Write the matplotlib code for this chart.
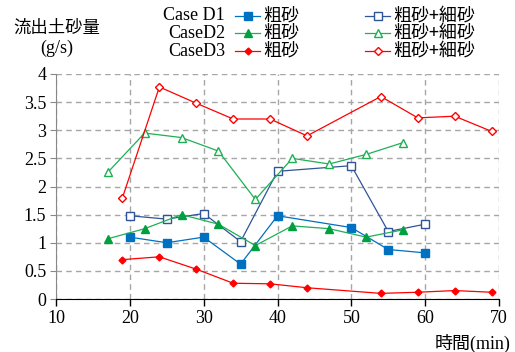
import matplotlib.pyplot as plt
from matplotlib.lines import Line2D

CJK = ['Noto Sans CJK JP', 'DejaVu Sans']
SERIF = ['Liberation Serif', 'Noto Sans CJK JP']

# Case D1 (every 5 min from 20)
d1_t = [20, 25, 30, 35, 40, 50, 55, 60]
d1_coarse = [1.10, 1.00, 1.10, 0.62, 1.48, 1.27, 0.88, 0.82]
d1_mixed = [1.48, 1.42, 1.52, 1.02, 2.27, 2.37, 1.20, 1.33]

# Case D2
d2_t = [17, 22, 27, 32, 37, 42, 47, 52, 57]
d2_coarse = [1.07, 1.25, 1.50, 1.33, 0.95, 1.30, 1.25, 1.10, 1.23]
d2_mixed = [2.25, 2.95, 2.87, 2.63, 1.77, 2.50, 2.40, 2.57, 2.78]

# Case D3
d3_t = [19, 24, 29, 34, 39, 44, 54, 59, 64, 69]
d3_coarse = [0.70, 0.75, 0.53, 0.28, 0.27, 0.20, 0.10, 0.12, 0.15, 0.12]
d3_mixed = [1.80, 3.77, 3.48, 3.20, 3.20, 2.90, 3.60, 3.22, 3.25, 2.98]

case_names = ['Case D1', 'CaseD2', 'CaseD3']
sand_labels = ['粗砂', '粗砂+細砂']

BLUE = '#0070C0'
NAVY = '#2F5597'
GREEN = '#1DB054'
RED = '#FF0000'

styles = [
    (d1_t, d1_coarse, dict(color=BLUE, marker='s', ms=5.2, mfc=BLUE, mec=BLUE)),
    (d1_t, d1_mixed, dict(color=NAVY, marker='s', ms=5.5, mfc='white', mec=NAVY)),
    (d2_t, d2_coarse, dict(color=GREEN, marker='^', ms=6, mfc='#00A040', mec='#00A040')),
    (d2_t, d2_mixed, dict(color=GREEN, marker='^', ms=6, mfc='white', mec=GREEN)),
    (d3_t, d3_coarse, dict(color=RED, marker='D', ms=3.5, mfc=RED, mec=RED)),
    (d3_t, d3_mixed, dict(color=RED, marker='D', ms=4.5, mfc='white', mec=RED)),
]

fig = plt.figure(figsize=(5.15, 3.52), dpi=100)
ax = fig.add_axes([56 / 515, 53 / 352, 443 / 515, 225 / 352])

for t, v, st in styles:
    ax.plot(t, v, lw=0.9, mew=1.0, **st)

ax.set_xlim(10, 70)
ax.set_ylim(0, 4)
ax.set_xticks(range(10, 71, 10))
ax.set_yticks([0, 0.5, 1, 1.5, 2, 2.5, 3, 3.5, 4])
ax.set_yticklabels(['0', '0.5', '1', '1.5', '2', '2.5', '3', '3.5', '4'])
for lab in ax.get_xticklabels() + ax.get_yticklabels():
    lab.set_family(SERIF)
    lab.set_fontsize(13)

ax.grid(True, color='#A6A6A6', linestyle=(0, (4, 3)), lw=1.0)
ax.spines['top'].set_visible(False)
ax.spines['right'].set_visible(False)
ax.spines['left'].set_color('#888888')
ax.spines['bottom'].set_color('black')
ax.tick_params(axis='x', direction='out', length=5, width=1, pad=3)
ax.tick_params(axis='y', direction='out', length=4, width=0.8, color='#888888', pad=3)
ax.set_axisbelow(True)

fig.text(57 / 515, 1 - 28 / 352, '流出土砂量', family=CJK, fontsize=12.5,
         ha='center', va='center')
fig.text(57 / 515, 1 - 48 / 352, '(g/s)', family=SERIF, fontsize=13,
         ha='center', va='center')
fig.text(510 / 515, 1 - 343 / 352, '時間(min)', family=SERIF, fontsize=13,
         ha='right', va='center')

# legend block: row captions, line samples and labels (rows sit tight together)
row_y = [16, 33, 51]
col_line = [(235, 260), (365, 390)]
col_text = [263, 393]
for r, name in enumerate(case_names):
    y = 1 - row_y[r] / 352
    fig.text(225 / 515, y, name, family=SERIF, fontsize=13, ha='right', va='center')
    for c in range(2):
        st = styles[2 * r + c][2]
        x0, x1 = col_line[c]
        fig.add_artist(Line2D([x0 / 515, x1 / 515], [y, y], lw=0.9,
                              transform=fig.transFigure,
                              **{**st, 'marker': 'None'}))
        fig.add_artist(Line2D([(x0 + x1) / 2 / 515], [y], lw=0, mew=1.0,
                              transform=fig.transFigure, **st))
        fig.text(col_text[c] / 515, y, sand_labels[c], family=CJK, fontsize=13,
                 ha='left', va='center')

fig.savefig('out.png', dpi=100)
